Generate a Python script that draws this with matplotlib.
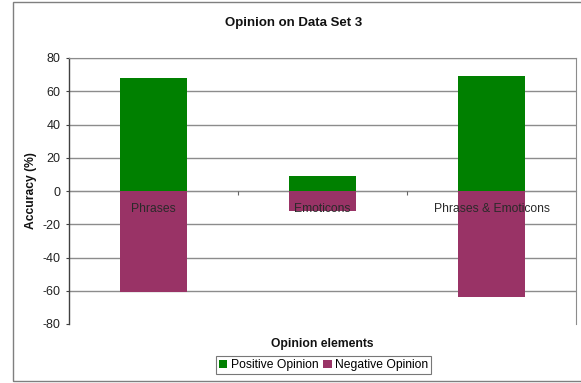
import matplotlib
matplotlib.use("Agg")
import matplotlib.pyplot as plt
from matplotlib.patches import Rectangle
from matplotlib.ticker import FixedLocator

plt.rcParams['font.family'] = ['Liberation Sans', 'DejaVu Sans']

categories = ["Phrases", "Emoticons", "Phrases & Emoticons"]
positive = [68, 9, 69]
negative = [-61, -12, -64]
series_names = ["Positive Opinion", "Negative Opinion"]
y_ticks = [-80, -60, -40, -20, 0, 20, 40, 60, 80]

W, H = 581, 383
fig = plt.figure(figsize=(W / 100, H / 100), dpi=100)

# outer chart frame (runs off the right edge)
fig.patches.append(Rectangle((13 / W, 2 / H), (W - 13) / W + 0.05, (379) / H,
                             transform=fig.transFigure, fill=False,
                             edgecolor='#7f7f7f', linewidth=1.0, zorder=0))

ax = fig.add_axes([69 / W, (H - 324) / H, (576 - 69) / W, (324 - 58) / H])
x = list(range(len(categories)))
ax.bar(x, positive, width=0.4, color='#008000', label=series_names[0], zorder=2)
ax.bar(x, negative, width=0.4, color='#993366', label=series_names[1], zorder=2)

ax.set_xlim(-0.5, len(categories) - 0.5)
ax.set_ylim(-80, 80)
ax.set_yticks(y_ticks)
ax.set_yticklabels([str(v) for v in y_ticks], fontsize=9, color='#222222')
ax.tick_params(axis='y', direction='out', length=2, width=0.8, color='#404040', pad=4)

for v in y_ticks:
    if v > -80:
        ax.axhline(v, color='#8c8c8c', linewidth=1.0, zorder=0.5)

ax.spines['left'].set_color('#404040')
ax.spines['left'].set_linewidth(1.0)
ax.spines['top'].set_color('#8c8c8c')
ax.spines['right'].set_color('#8c8c8c')
ax.spines['bottom'].set_position(('data', 0))
ax.spines['bottom'].set_color('#8c8c8c')
ax.spines['bottom'].set_zorder(0.5)

ax.set_xticks([])
ax.xaxis.set_minor_locator(FixedLocator([0.5, 1.5]))
ax.tick_params(axis='x', which='minor', direction='out', length=3, width=0.8, color='#666666')

for xi, name in zip(x, categories):
    ax.text(xi, -11, name, ha='center', va='center', fontsize=8.7,
            color='#2a2a2a', zorder=5)

fig.text(294 / W, 1 - 23 / H, "Opinion on Data Set 3", ha='center', va='center',
         fontsize=9.5, fontweight='bold', color='#111111')
fig.text(31 / W, 1 - 191 / H, "Accuracy (%)", ha='center', va='center', rotation=90,
         fontsize=8.7, fontweight='bold', color='#111111')
fig.text(322.5 / W, 1 - 344 / H, "Opinion elements", ha='center', va='center',
         fontsize=8.7, fontweight='bold', color='#111111')

leg = fig.legend(loc='center', bbox_to_anchor=(323.5 / W, 1 - 365 / H), ncol=2,
                 fontsize=8.7, frameon=True, fancybox=False, handlelength=0.7,
                 handleheight=0.7, handletextpad=0.3, columnspacing=0.4,
                 borderpad=0.25, borderaxespad=0)
leg.get_frame().set_edgecolor('#555555')
leg.get_frame().set_linewidth(0.8)

fig.savefig("out.png", dpi=100)
